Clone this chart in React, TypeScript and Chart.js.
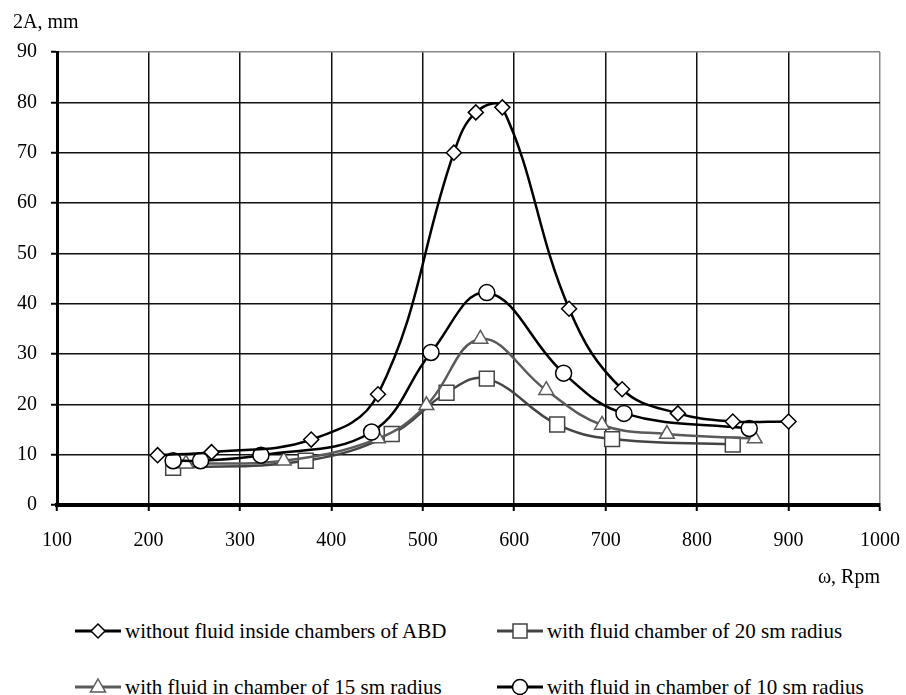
import React, { useEffect, useRef } from 'react';
import { Chart, registerables } from 'chart.js';

Chart.register(...registerables);

const FONT = '"Liberation Serif", "Times New Roman", serif';

const xTickValues = [100, 200, 300, 400, 500, 600, 700, 800, 900, 1000];
const yTickValues = [0, 10, 20, 30, 40, 50, 60, 70, 80, 90];

const yTitle = '2A, mm';
const xTitle = 'ω, Rpm';

const noFluidLabel = 'without fluid inside chambers of ABD';
const noFluidX = [210, 269, 378, 451, 534, 558, 587, 660, 718, 779, 839, 900];
const noFluidY = [9.9, 10.5, 13, 22, 70, 78, 79, 39, 23, 18.2, 16.6, 16.6];

const r20Label = 'with fluid chamber of 20 sm radius';
const r20X = [227, 372, 466, 526, 570, 647, 707, 839];
const r20Y = [7.4, 8.8, 14.1, 22.3, 25.1, 16, 13.1, 12];

const r15Label = 'with fluid in chamber of 15 sm radius';
const r15X = [241, 348, 451, 504, 563, 635, 696, 767, 863];
const r15Y = [8.2, 8.8, 13.2, 19.8, 33, 22.8, 15.9, 14.1, 13.2];

const r10Label = 'with fluid in chamber of 10 sm radius';
const r10X = [227, 257, 323, 444, 509, 570, 654, 720, 857];
const r10Y = [8.8, 8.8, 9.9, 14.5, 30.3, 42.2, 26.2, 18.2, 15.2];

const zip = (xs: number[], ys: number[]) => xs.map((x, i) => ({ x, y: ys[i] }));

type SeriesDef = {
  label: string;
  xs: number[];
  ys: number[];
  color: string;
  marker: 'rectRot' | 'rect' | 'triangle' | 'circle';
  radius: number;
};

const series: SeriesDef[] = [
  { label: noFluidLabel, xs: noFluidX, ys: noFluidY, color: '#000000', marker: 'rectRot', radius: 7.5 },
  { label: r10Label, xs: r10X, ys: r10Y, color: '#000000', marker: 'circle', radius: 8 },
  { label: r15Label, xs: r15X, ys: r15Y, color: '#5a5a5a', marker: 'triangle', radius: 8.5 },
  { label: r20Label, xs: r20X, ys: r20Y, color: '#444444', marker: 'rect', radius: 10.5 },
];

const legendOrder = [
  { s: 0, left: 74, top: 620 },
  { s: 3, left: 496, top: 620 },
  { s: 2, left: 74, top: 676 },
  { s: 1, left: 496, top: 676 },
];

function Marker({ kind, color }: { kind: string; color: string }) {
  const cx = 24;
  const cy = 11;
  let shape: React.ReactNode = null;
  if (kind === 'rectRot') {
    shape = <polygon points={`${cx},${cy - 7} ${cx + 7},${cy} ${cx},${cy + 7} ${cx - 7},${cy}`} fill="#fff" stroke={color} strokeWidth={1.5} />;
  } else if (kind === 'rect') {
    shape = <rect x={cx - 7} y={cy - 7} width={14} height={14} fill="#fff" stroke={color} strokeWidth={1.5} />;
  } else if (kind === 'triangle') {
    shape = <polygon points={`${cx},${cy - 8} ${cx + 7.5},${cy + 5} ${cx - 7.5},${cy + 5}`} fill="#fff" stroke={color} strokeWidth={1.5} />;
  } else {
    shape = <circle cx={cx} cy={cy} r={7.5} fill="#fff" stroke={color} strokeWidth={1.5} />;
  }
  return (
    <svg width={48} height={22} style={{ display: 'block' }}>
      <line x1={1} y1={cy} x2={47} y2={cy} stroke={color} strokeWidth={3} />
      {shape}
    </svg>
  );
}

export default function App() {
  const canvasRef = useRef<HTMLCanvasElement | null>(null);

  useEffect(() => {
    document.body.style.margin = '0';
    document.documentElement.style.overflow = 'hidden';
    document.body.style.overflow = 'hidden';
    if (!canvasRef.current) return;
    const textPlugin = {
      id: 'yTitleText',
      afterDraw(chart: any) {
        const ctx = chart.ctx;
        ctx.save();
        ctx.font = `20px ${FONT}`;
        ctx.fillStyle = '#000';
        ctx.textAlign = 'left';
        ctx.textBaseline = 'middle';
        ctx.fillText(yTitle, 13, 23);
        ctx.restore();
      },
    };
    const chart = new Chart(canvasRef.current, {
      type: 'line',
      data: {
        datasets: series.map((s) => ({
          label: s.label,
          data: zip(s.xs, s.ys),
          borderColor: s.color,
          backgroundColor: '#ffffff',
          borderWidth: 2.5,
          pointStyle: s.marker,
          pointRadius: s.radius,
          pointBorderColor: s.color,
          pointBackgroundColor: '#ffffff',
          pointBorderWidth: 1.5,
          tension: 0.4,
          fill: false,
        })),
      },
      plugins: [textPlugin],
      options: {
        animation: false,
        responsive: false,
        maintainAspectRatio: false,
        layout: { padding: { top: 52, right: 26, bottom: 8, left: 0 } },
        plugins: {
          legend: { display: false },
          tooltip: { enabled: false },
          title: { display: false },
        },
        scales: {
          x: {
            type: 'linear',
            min: 100,
            max: 1000,
            afterFit: (scale: any) => {
              scale.height = 85;
              scale.paddingLeft = 0;
              scale.paddingRight = 0;
            },
            afterBuildTicks: (scale: any) => {
              scale.ticks = xTickValues.map((v) => ({ value: v }));
            },
            ticks: {
              color: '#000',
              font: { family: FONT, size: 20 },
              padding: 18,
              maxRotation: 0,
              autoSkip: false,
              callback: (v: any) => String(v),
            },
            grid: {
              color: (ctx: any) => (ctx.tick && ctx.tick.value === 1000 ? '#888888' : '#111111'),
              lineWidth: 1.5,
              tickLength: 6,
              tickColor: '#000',
              tickWidth: 2,
            },
            border: { display: true, color: '#000', width: 4 },
            title: {
              display: true,
              text: xTitle,
              align: 'end',
              color: '#000',
              font: { family: FONT, size: 20 },
              padding: { top: 0, bottom: 0 },
            },
          },
          y: {
            type: 'linear',
            min: 0,
            max: 90,
            afterFit: (scale: any) => {
              scale.width = 57;
              scale.paddingTop = 0;
              scale.paddingBottom = 0;
            },
            afterBuildTicks: (scale: any) => {
              scale.ticks = yTickValues.map((v) => ({ value: v }));
            },
            ticks: {
              color: '#000',
              font: { family: FONT, size: 20 },
              padding: 14,
              autoSkip: false,
              callback: (v: any) => String(v),
            },
            grid: {
              color: (ctx: any) => (ctx.tick && ctx.tick.value === 90 ? '#888888' : '#111111'),
              lineWidth: 1.5,
              tickLength: 6,
              tickColor: '#000',
              tickWidth: 2,
            },
            border: { display: true, color: '#000', width: 3 },
          },
        },
      },
    } as any);
    return () => chart.destroy();
  }, []);

  return (
    <div style={{ position: 'relative', width: 906, height: 695, overflow: 'hidden' }}>
      <canvas ref={canvasRef} width={906} height={598} style={{ display: 'block', width: 906, height: 598 }} />
      {legendOrder.map((item, i) => {
        const s = series[item.s];
        return (
          <div
            key={i}
            style={{
              position: 'absolute',
              left: item.left,
              top: item.top,
              display: 'flex',
              alignItems: 'center',
              fontFamily: FONT,
              fontSize: 21,
              color: '#000',
              whiteSpace: 'nowrap',
              lineHeight: '22px',
            }}
          >
            <Marker kind={s.marker} color={s.color} />
            <span style={{ marginLeft: 3 }}>{s.label}</span>
          </div>
        );
      })}
    </div>
  );
}
